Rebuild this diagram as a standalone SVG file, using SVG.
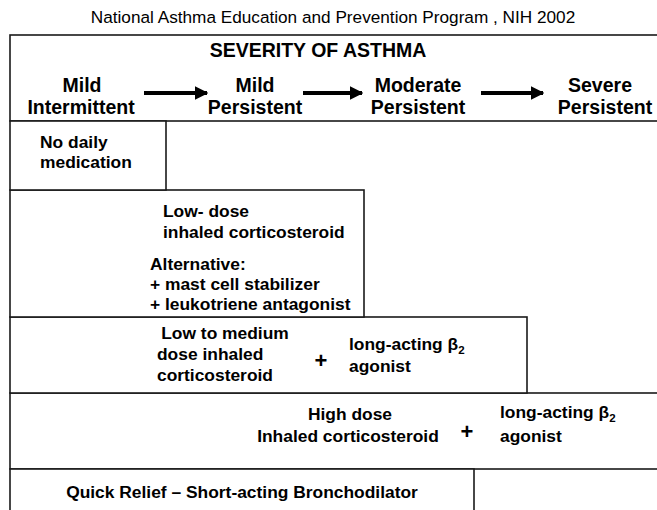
<svg xmlns="http://www.w3.org/2000/svg" width="657" height="510" viewBox="0 0 657 510">
<style>
.box{fill:#fff;stroke:#1a1a1a;stroke-width:1.6}
.t{font-family:"Liberation Sans",Arial,sans-serif;fill:#000}
.title{font-size:17.2px}
.h{font-size:19.5px;font-weight:bold;text-anchor:middle}
.c{font-size:17.4px;font-weight:bold}
.sub{font-size:11.5px}
.arr{stroke:#000;stroke-width:4;fill:none}
</style>
<defs>
<marker id="ah" viewBox="0 0 10 10" refX="9" refY="5" markerWidth="3.4" markerHeight="3.4" orient="auto" markerUnits="strokeWidth">
<path d="M0,0 L10,5 L0,10 z" fill="#000"/>
</marker>
</defs>
<rect width="657" height="510" fill="#fff"/>
<g id="title">
<text class="t title" x="333" y="23" text-anchor="middle">National Asthma Education and Prevention Program , NIH 2002</text>
</g>
<g id="header">
<rect class="box" x="10" y="35" width="670" height="86"/>
<text class="t h" x="318" y="57">SEVERITY OF ASTHMA</text>
<text class="t h" x="82" y="92">Mild</text>
<text class="t h" x="81" y="114">Intermittent</text>
<text class="t h" x="255" y="92">Mild</text>
<text class="t h" x="255" y="114">Persistent</text>
<text class="t h" x="418" y="92">Moderate</text>
<text class="t h" x="418" y="114">Persistent</text>
<text class="t h" x="600" y="92">Severe</text>
<text class="t h" x="605" y="114">Persistent</text>
</g>
<g id="connectors">
<line class="arr" x1="144" y1="93" x2="207" y2="93" marker-end="url(#ah)"/>
<line class="arr" x1="303" y1="93" x2="362" y2="93" marker-end="url(#ah)"/>
<line class="arr" x1="481" y1="93" x2="543" y2="93" marker-end="url(#ah)"/>
</g>
<g id="high-dose">
<rect class="box" x="10" y="393" width="670" height="76"/>
<text class="t c" x="350" y="420" text-anchor="middle">High dose</text>
<text class="t c" x="348" y="442" text-anchor="middle">Inhaled corticosteroid</text>
<text class="t c" x="467" y="439" text-anchor="middle" style="font-size:22px">+</text>
<text class="t c" x="500" y="418">long-acting β<tspan class="sub" dy="4">2</tspan></text>
<text class="t c" x="500" y="442">agonist</text>
</g>
<g id="low-to-medium">
<rect class="box" x="10" y="317" width="517" height="76"/>
<text class="t c" x="225" y="339" text-anchor="middle">Low to medium</text>
<text class="t c" x="157" y="360">dose inhaled</text>
<text class="t c" x="157" y="381">corticosteroid</text>
<text class="t c" x="321" y="368" text-anchor="middle" style="font-size:22px">+</text>
<text class="t c" x="349" y="350">long-acting β<tspan class="sub" dy="4">2</tspan></text>
<text class="t c" x="349" y="372">agonist</text>
</g>
<g id="low-dose">
<rect class="box" x="10" y="190" width="354" height="127"/>
<text class="t c" x="163" y="217">Low- dose</text>
<text class="t c" x="163" y="238">inhaled corticosteroid</text>
<text class="t c" x="150" y="270">Alternative:</text>
<text class="t c" x="150" y="290">+ mast cell stabilizer</text>
<text class="t c" x="150" y="310">+ leukotriene antagonist</text>
</g>
<g id="no-daily">
<rect class="box" x="10" y="121" width="156" height="69"/>
<text class="t c" x="40" y="148">No daily</text>
<text class="t c" x="40" y="168">medication</text>
</g>
<g id="quick-relief">
<rect class="box" x="10" y="469" width="464" height="60"/>
<text class="t c" x="242" y="498" text-anchor="middle">Quick Relief – Short-acting Bronchodilator</text>
</g>
</svg>
